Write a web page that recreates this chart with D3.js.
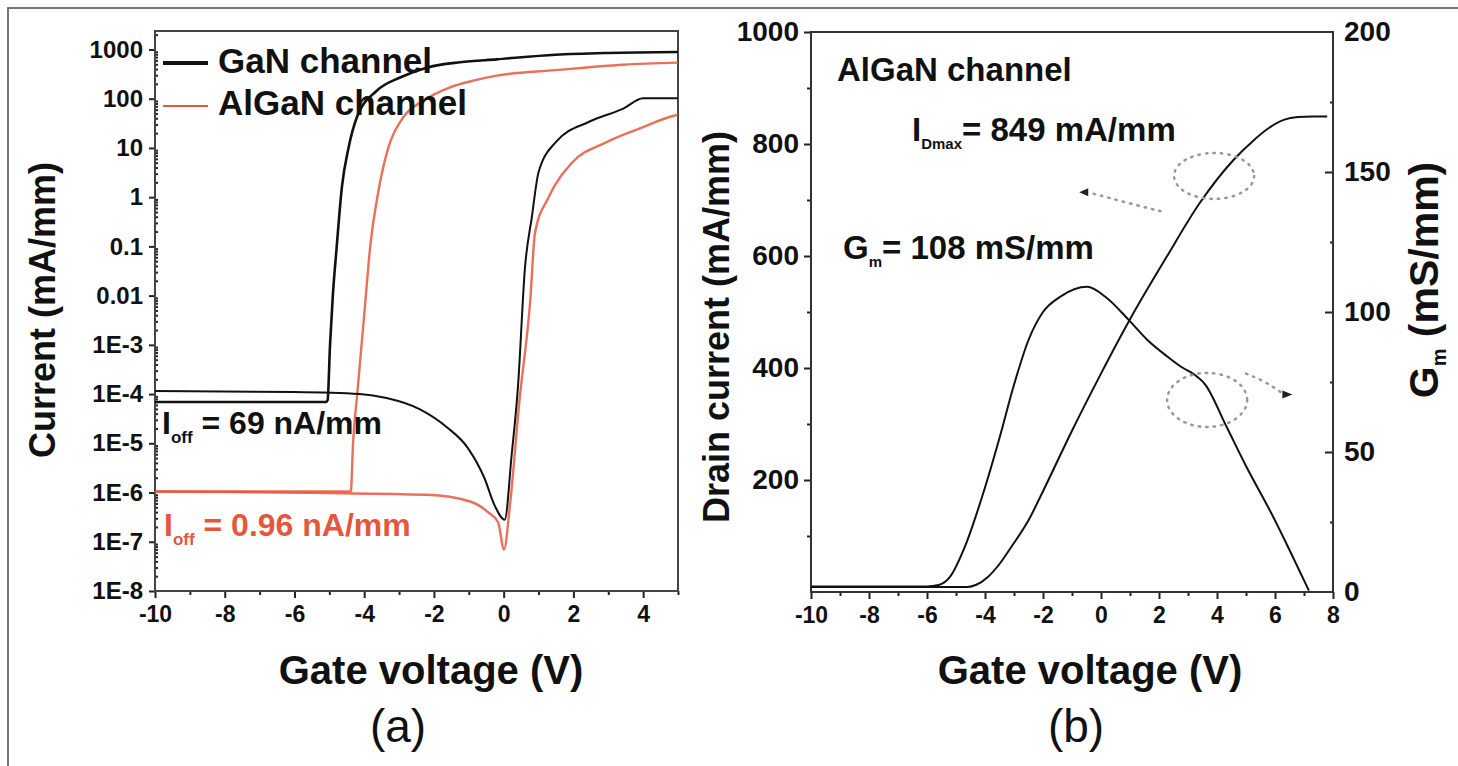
<!DOCTYPE html>
<html>
<head>
<meta charset="utf-8">
<script src="https://cdn.jsdelivr.net/npm/d3@7"></script>
<style>
  body { margin: 0; background: #fff; }
  svg text { font-family: "Liberation Sans", Arial, sans-serif; fill: #111; }
</style>
</head>
<body>
<svg id="chart" width="1458" height="766"></svg>
<script>
// ---- panel (a): transfer curves, log current ----
const gaNIdV = [-10, -5.1, -5.05, -4.98, -4.9, -4.79, -4.64, -4.45, -4.21, -3.64, -2.97, -2.21, -1.25, -0.2, 1.49, 3.0, 5];
const gaNId  = [6.9e-5, 6.9e-5, 7.5e-5, 1e-3, 1e-2, 0.095, 1.6, 10, 42, 145, 270, 427, 550, 630, 780, 850, 890];
const gaNIgV = [-10, -6, -4.13, -3.36, -2.4, -1.62, -1.03, -0.55, -0.26, 0.03, 0.23, 0.41, 0.61, 0.81, 1.0, 1.49, 2.45, 3.43, 4.0, 5];
const gaNIg  = [1.15e-4, 1.1e-4, 1.0e-4, 8.3e-5, 4.9e-5, 2.1e-5, 8.1e-6, 1.95e-6, 5.5e-7, 2.8e-7, 5.9e-6, 1.4e-4, 3.6e-2, 0.4, 3.2, 13, 34, 63, 102, 102];
const alIdV  = [-10, -4.4, -4.38, -4.32, -4.2, -4.0, -3.83, -3.59, -3.31, -2.88, -2.3, -1.54, -0.87, -0.2, 1.49, 3.43, 5];
const alId   = [1.05e-6, 1.05e-6, 1.1e-6, 1e-5, 1e-4, 4e-3, 0.095, 1.35, 10, 42, 91, 170, 233, 295, 380, 490, 540];
const alIgV  = [-10, -2.2, -0.94, -0.45, -0.16, 0.01, 0.18, 0.45, 0.76, 0.9, 1.29, 1.96, 2.94, 3.91, 4.88, 5];
const alIg   = [1.05e-6, 9e-7, 6.5e-7, 4e-7, 2.5e-7, 7e-8, 5.5e-7, 7e-5, 7.6e-3, 0.19, 1.0, 5, 13, 25, 45, 47];
const decadeLabels = ["1E-8", "1E-7", "1E-6", "1E-5", "1E-4", "1E-3", "0.01", "0.1", "1", "10", "100", "1000"];

// ---- panel (b): AlGaN channel, linear ----
const idV = [-10, -4.6, -4.3, -3.9, -3.5, -3.1, -2.5, -2.0, -1.0, 0, 1.0, 2.27, 3.41, 4.56, 5.25, 5.8, 6.3, 6.8, 7.3, 7.8];
const idB = [9, 9, 13, 27, 50, 80, 128, 180, 288, 390, 487, 599, 695, 771, 806, 829, 843, 848, 849, 849];
const gmV = [-10, -6, -5.6, -5.2, -4.7, -4.1, -3.5, -3.0, -2.5, -2.0, -1.4, -0.48, 0.2, 0.97, 1.6, 2.3, 2.83, 3.17, 3.6, 4.33, 5.0, 5.83, 6.5, 7.17];
const gmB = [2, 2, 2.5, 5.5, 16, 34, 55, 74, 90, 100, 105.5, 109, 105, 97, 90, 84, 80, 78, 74, 59, 45, 29, 15, 0.5];

const red = "#e5573c";
const svg = d3.select("#chart");

// outer frame of the figure
svg.append("path").attr("d", "M8,766V8H1458").attr("fill", "none").attr("stroke", "#777").attr("stroke-width", 2);

function text(x, y, s, size, weight, opts) {
  opts = opts || {};
  const t = svg.append("text")
    .attr("transform", "translate(" + x + "," + y + ")" + (opts.rot ? " rotate(-90)" : ""))
    .attr("font-size", size)
    .attr("font-weight", weight)
    .attr("text-anchor", opts.anchor || "start");
  if (opts.color) t.style("fill", opts.color);
  if (s !== null) t.text(s);
  return t;
}

function styleAxis(g, size) {
  g.select(".domain").remove();
  g.selectAll("line").attr("stroke", "#222").attr("stroke-width", 2);
  g.selectAll("text").attr("font-size", size).attr("font-weight", "bold").style("fill", "#111");
}

const plain = d => String(d);

// ================= panel (a) =================
const xa = d3.scaleLinear().domain([-10, 5]).range([155, 678]);
const ya = d3.scaleLog().domain([1e-8, Math.pow(10, 3.375)]).range([591, 31]);

const decades = d3.range(-8, 4).map(e => Math.pow(10, e));
const minors = [];
d3.range(-8, 3).forEach(e => { for (let k = 2; k <= 9; k++) minors.push(k * Math.pow(10, e)); });
minors.push(2000);

svg.append("g").attr("transform", "translate(155,0)")
  .call(d3.axisLeft(ya).tickValues(decades).tickFormat((d, i) => decadeLabels[i]).tickSize(6).tickPadding(6))
  .call(g => styleAxis(g, 24));
svg.append("g").attr("transform", "translate(155,0)")
  .call(d3.axisRight(ya).tickValues(minors).tickFormat("").tickSize(3))
  .call(g => styleAxis(g, 24));

svg.append("g").attr("transform", "translate(0,591)")
  .call(d3.axisBottom(xa).tickValues(d3.range(-10, 6, 2)).tickFormat(plain).tickSize(7).tickPadding(8))
  .call(g => styleAxis(g, 23));
svg.append("g").attr("transform", "translate(0,591)")
  .call(d3.axisBottom(xa).tickValues(d3.range(-9, 6, 2)).tickFormat("").tickSize(4))
  .call(g => styleAxis(g, 23));

svg.append("rect").attr("x", 155).attr("y", 31).attr("width", 678 - 155).attr("height", 591 - 31)
  .attr("fill", "none").attr("stroke", "#444").attr("stroke-width", 2);

const lineA = d3.line().x(d => xa(d[0])).y(d => ya(d[1])).curve(d3.curveMonotoneX);
const zip = (a, b) => a.map((v, i) => [v, b[i]]);

svg.append("path").attr("d", lineA(zip(alIgV, alIg))).attr("fill", "none").attr("stroke", red).attr("stroke-width", 2.4).attr("opacity", 0.85);
svg.append("path").attr("d", lineA(zip(alIdV, alId))).attr("fill", "none").attr("stroke", red).attr("stroke-width", 2.4).attr("opacity", 0.85);
svg.append("path").attr("d", lineA(zip(gaNIgV, gaNIg))).attr("fill", "none").attr("stroke", "#111").attr("stroke-width", 2);
svg.append("path").attr("d", lineA(zip(gaNIdV, gaNId))).attr("fill", "none").attr("stroke", "#111").attr("stroke-width", 2.6);

// legend
svg.append("line").attr("x1", 163).attr("x2", 208).attr("y1", 63).attr("y2", 63).attr("stroke", "#111").attr("stroke-width", 4);
svg.append("line").attr("x1", 163).attr("x2", 208).attr("y1", 106).attr("y2", 106).attr("stroke", red).attr("stroke-width", 2.2);
text(218, 73, "GaN channel", 35, "bold");
text(218, 115, "AlGaN channel", 35, "bold");

// off-state annotations
const t1 = text(162, 434, null, 32, "bold");
t1.append("tspan").text("I");
t1.append("tspan").attr("font-size", 17).attr("dy", 9).text("off");
t1.append("tspan").attr("dy", -9).text(" = 69 nA/mm");
const t2 = text(164, 536, null, 32, "bold", { color: red });
t2.append("tspan").text("I");
t2.append("tspan").attr("font-size", 17).attr("dy", 9).text("off");
t2.append("tspan").attr("dy", -9).text(" = 0.96 nA/mm");

text(42, 310, "Current (mA/mm)", 36, "bold", { rot: true, anchor: "middle" }).attr("dy", "0.35em");
text(431, 684, "Gate voltage (V)", 40, "bold", { anchor: "middle" });
text(398, 742, "(a)", 46, "normal", { anchor: "middle" });

// ================= panel (b) =================
const xb = d3.scaleLinear().domain([-10, 8]).range([811, 1333]);
const ybL = d3.scaleLinear().domain([0, 1000]).range([592, 32]);
const ybR = d3.scaleLinear().domain([0, 200]).range([592, 32]);

svg.append("g").attr("transform", "translate(811,0)")
  .call(d3.axisLeft(ybL).tickValues(d3.range(200, 1001, 200)).tickFormat(plain).tickSize(7).tickPadding(5))
  .call(g => styleAxis(g, 28));
svg.append("g").attr("transform", "translate(811,0)")
  .call(d3.axisLeft(ybL).tickValues(d3.range(100, 1000, 200)).tickFormat("").tickSize(4))
  .call(g => styleAxis(g, 28));
svg.append("g").attr("transform", "translate(1333,0)")
  .call(d3.axisRight(ybR).tickValues(d3.range(0, 201, 50)).tickFormat(plain).tickSize(0).tickPadding(11))
  .call(g => styleAxis(g, 28));
svg.append("g").attr("transform", "translate(1333,0)")
  .call(d3.axisLeft(ybR).tickValues(d3.range(50, 200, 50)).tickFormat("").tickSize(8))
  .call(g => styleAxis(g, 28));
svg.append("g").attr("transform", "translate(1333,0)")
  .call(d3.axisLeft(ybR).tickValues(d3.range(25, 200, 50)).tickFormat("").tickSize(3))
  .call(g => styleAxis(g, 28));
svg.append("g").attr("transform", "translate(0,592)")
  .call(d3.axisBottom(xb).tickValues(d3.range(-10, 9, 2)).tickFormat(plain).tickSize(7).tickPadding(8))
  .call(g => styleAxis(g, 23));
svg.append("g").attr("transform", "translate(0,592)")
  .call(d3.axisBottom(xb).tickValues(d3.range(-9, 8, 2)).tickFormat("").tickSize(4))
  .call(g => styleAxis(g, 23));

svg.append("rect").attr("x", 811).attr("y", 32).attr("width", 1333 - 811).attr("height", 592 - 32)
  .attr("fill", "none").attr("stroke", "#333").attr("stroke-width", 2);

const lineId = d3.line().x(d => xb(d[0])).y(d => ybL(d[1])).curve(d3.curveMonotoneX);
const lineGm = d3.line().x(d => xb(d[0])).y(d => ybR(d[1])).curve(d3.curveMonotoneX);
svg.append("path").attr("d", lineId(zip(idV, idB))).attr("fill", "none").attr("stroke", "#111").attr("stroke-width", 2);
svg.append("path").attr("d", lineGm(zip(gmV, gmB))).attr("fill", "none").attr("stroke", "#111").attr("stroke-width", 2);

// dotted circles and arrows
const dot = { stroke: "#999", "stroke-width": 2.5, "stroke-dasharray": "1.5,6", "stroke-linecap": "round", fill: "none" };
function dotted(sel) { Object.keys(dot).forEach(k => sel.attr(k, dot[k])); return sel; }
dotted(svg.append("ellipse").attr("cx", xb(3.9)).attr("cy", ybL(743)).attr("rx", 40).attr("ry", 23));
dotted(svg.append("path").attr("d", d3.line().curve(d3.curveBasis)([[xb(2.05), ybL(680)], [xb(0.9), ybL(695)], [xb(-0.45), ybL(714)]])));
svg.append("path").attr("d", "M" + xb(-0.75) + "," + ybL(714) + "l9,-4l0,8z").attr("fill", "#222");
dotted(svg.append("ellipse").attr("cx", xb(3.66)).attr("cy", ybR(68.6)).attr("rx", 40).attr("ry", 27));
dotted(svg.append("path").attr("d", d3.line().curve(d3.curveBasis)([[xb(5.0), ybR(78)], [xb(5.7), ybR(75)], [xb(6.25), ybR(71)]])));
svg.append("path").attr("d", "M" + xb(6.6) + "," + ybR(70.5) + "l-10,-4l0,8z").attr("fill", "#222");

text(837, 81, "AlGaN channel", 33, "bold");
const t3 = text(912, 141, null, 33, "bold");
t3.append("tspan").text("I");
t3.append("tspan").attr("font-size", 15).attr("dy", 8).text("Dmax");
t3.append("tspan").attr("dy", -8).text("= 849 mA/mm");
const t4 = text(843, 259, null, 33, "bold");
t4.append("tspan").text("G");
t4.append("tspan").attr("font-size", 15).attr("dy", 8).text("m");
t4.append("tspan").attr("dy", -8).text("= 108 mS/mm");

text(716, 327, "Drain current (mA/mm)", 36, "bold", { rot: true, anchor: "middle" }).attr("dy", "0.35em");
const t5 = text(1424, 280, null, 41, "bold", { rot: true, anchor: "middle" }).attr("dy", "0.35em");
t5.append("tspan").text("G");
t5.append("tspan").attr("font-size", 20).attr("dy", 8).text("m");
t5.append("tspan").attr("dy", -8).text(" (mS/mm)");
text(1090, 684, "Gate voltage (V)", 40, "bold", { anchor: "middle" });
text(1076, 742, "(b)", 46, "normal", { anchor: "middle" });
</script>
</body>
</html>
